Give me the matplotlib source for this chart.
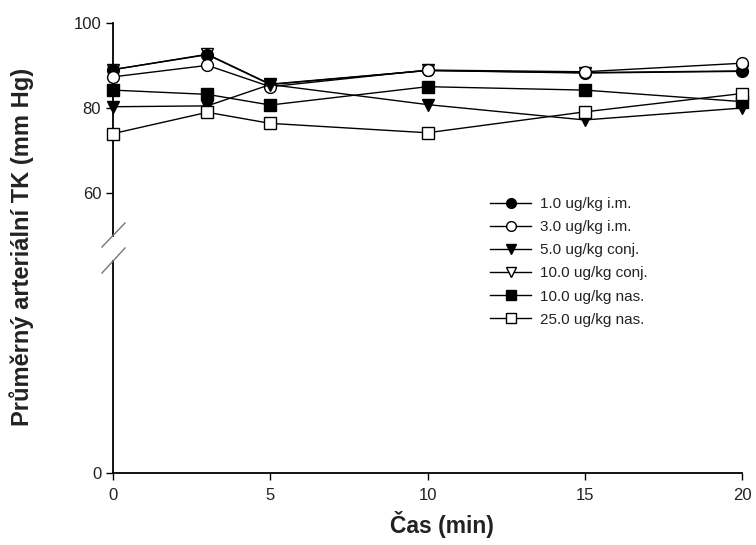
import matplotlib
matplotlib.use("Agg")
import matplotlib.pyplot as plt
from matplotlib.lines import Line2D

plt.rcParams['font.family'] = ['Liberation Sans', 'DejaVu Sans']

# mean arterial pressure after dosing, by time
times = [0, 3, 5, 10, 15, 20]
im_1 = [89.0, 92.5, 85.5, 88.8, 88.3, 88.7]
im_3 = [87.3, 90.0, 85.0, 88.9, 88.5, 90.5]
conj_5 = [80.3, 80.5, 85.5, 80.8, 77.2, 80.0]
conj_10 = [89.0, 92.6, 85.6, 88.8, 88.2, 88.6]
nas_10 = [84.2, 83.2, 80.7, 85.0, 84.2, 81.5]
nas_25 = [74.0, 79.0, 76.4, 74.2, 79.1, 83.4]

labels = ["1.0 ug/kg i.m.", "3.0 ug/kg i.m.", "5.0 ug/kg conj.",
          "10.0 ug/kg conj.", "10.0 ug/kg nas.", "25.0 ug/kg nas."]
series = [im_1, im_3, conj_5, conj_10, nas_10, nas_25]
markers = ["o", "o", "v", "v", "s", "s"]
fills = ["black", "white", "black", "white", "black", "white"]
# draw order so the open triangles sit under the filled circles
order = [3, 0, 1, 2, 4, 5]

fig = plt.figure(figsize=(7.56, 5.45), dpi=100)
left, right = 113 / 756, 742 / 756
ax_top = fig.add_axes([left, 1 - 236 / 545, right - left, (236 - 22.7) / 545])
ax_bot = fig.add_axes([left, 1 - 472.7 / 545, right - left, (472.7 - 261) / 545])

for k, i in enumerate(order):
    ax_top.plot(times, series[i], color="black", lw=1.0, marker=markers[i],
                markersize=8.5, markerfacecolor=fills[i], markeredgecolor="black",
                markeredgewidth=1.0, zorder=3 + k * 0.1, clip_on=False)

ax_top.set_xlim(0, 20)
ax_top.set_ylim(50, 100)
ax_bot.set_xlim(0, 20)
ax_bot.set_ylim(0, 50)

for ax in (ax_top, ax_bot):
    ax.spines["top"].set_visible(False)
    ax.spines["right"].set_visible(False)
    ax.spines["left"].set_linewidth(1.3)
    ax.tick_params(axis="y", direction="out", length=5, width=1.0, labelsize=12,
                   labelcolor="#222222")
    ax.patch.set_alpha(0)

ax_top.spines["bottom"].set_visible(False)
ax_top.set_xticks([])
ax_top.set_yticks([60, 80, 100])
ax_bot.spines["bottom"].set_linewidth(1.3)
ax_bot.set_yticks([0])
ax_bot.set_xticks([0, 5, 10, 15, 20])
ax_bot.tick_params(axis="x", direction="out", length=5, width=1.0, labelsize=12,
                   labelcolor="#222222", pad=6)

# break marks on the y axis
for y0, y1 in [(247, 223), (273, 248)]:
    fig.add_artist(Line2D([102 / 756, 125 / 756], [1 - y0 / 545, 1 - y1 / 545],
                          transform=fig.transFigure, color="#777777", lw=1.0))

fig.text(442 / 756, 1 - 524 / 545, "Čas (min)", ha="center", va="center",
         fontsize=16.5, fontweight="bold", color="#222222")
fig.text(22 / 756, 1 - 247 / 545, "Průměrný arteriální TK (mm Hg)", ha="center",
         va="center", rotation=90, fontsize=17, fontweight="bold", color="#222222")

handles = [Line2D([], [], color="black", lw=1.0, marker=markers[i], markersize=7,
                  markerfacecolor=fills[i], markeredgecolor="black")
           for i in range(6)]
fig.legend(handles, labels, loc="upper left", bbox_to_anchor=(490 / 756, 1 - 197 / 545),
           frameon=False, fontsize=11, handlelength=2.7, handletextpad=0.6,
           labelspacing=0.6, borderpad=0, borderaxespad=0, labelcolor="#222222")

fig.savefig("out.png", dpi=100)
